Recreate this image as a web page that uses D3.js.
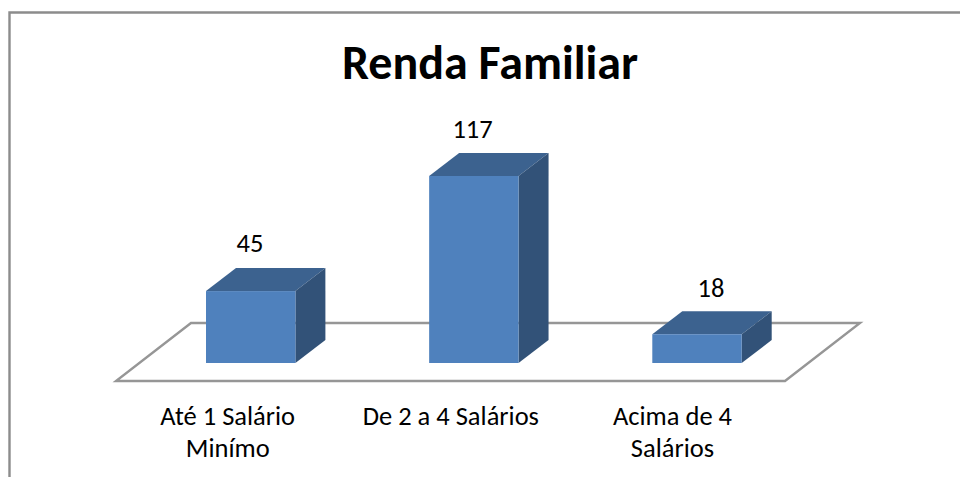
<!DOCTYPE html>
<html><head><meta charset="utf-8">
<script src="https://cdn.jsdelivr.net/npm/d3@7"></script>
<style>html,body{margin:0;padding:0;background:#fff}svg{display:block}text{font-family:Carlito,Lato,"Open Sans",sans-serif;fill:#000}</style>
</head><body><svg id="c" width="960" height="477"></svg>
<script>
const title = "Renda Familiar";
const categories = ["Até 1 Salário Minímo", "De 2 a 4 Salários", "Acima de 4 Salários"];
const categoryLines = [["Até 1 Salário","Minímo"],["De 2 a 4 Salários"],["Acima de 4","Salários"]];
const values = [45, 117, 18];

const svg = d3.select("#c");
const baseY = 363, depthX = 30, depthY = 23, floorL = 116, floorR = 785, floorY = 381;
const y = d3.scaleLinear().domain([0, 117]).range([baseY, 176]);
const cx = d3.scalePoint().domain(categories).range([250.7, 697]);
const labelDx = [-0.7, -1.3, 14];
const labelDy = [39.5, 38.5, 37.5];
const categoryDx = [-23, -23, -24.5];

svg.append("path").attr("d","M9.5,477V12.5H960").attr("fill","none").attr("stroke","#8c8c8c").attr("stroke-width",2.4);
svg.append("path").attr("d",d3.line()([[floorL,floorY],[floorR,floorY],[860,323],[191,323]])+"Z")
  .attr("fill","#fff").attr("stroke","#969696").attr("stroke-width",2.4);

const bw = 89.4;
const g = svg.selectAll("g.bar").data(values).join("g").attr("class","bar");
g.each(function(v,i){
  const s = d3.select(this), c = cx(categories[i]), l = c - bw/2, r = l + bw, t = y(v);
  s.append("path").attr("d",d3.line()([[l,t],[r,t],[r+depthX,t-depthY],[l+depthX,t-depthY]])+"Z").attr("fill","#3c628f");
  s.append("path").attr("d",d3.line()([[r,t],[r+depthX,t-depthY],[r+depthX,baseY-depthY],[r,baseY]])+"Z").attr("fill","#325278");
  s.append("rect").attr("x",l).attr("y",t).attr("width",bw).attr("height",baseY-t).attr("fill","#4f81bd");
  s.append("text").attr("x",c+labelDx[i]).attr("y",t-labelDy[i]).attr("text-anchor","middle").attr("font-size",26.5).text(v);
  categoryLines[i].forEach((line,k)=>{
    s.append("text").attr("x",c+categoryDx[i]).attr("y",424.5+k*32).attr("text-anchor","middle").attr("font-size",26.5).text(line);
  });
});
svg.append("text").attr("x",490).attr("y",79).attr("text-anchor","middle").attr("font-size",48).attr("font-weight","bold").text(title);
</script></body></html>
